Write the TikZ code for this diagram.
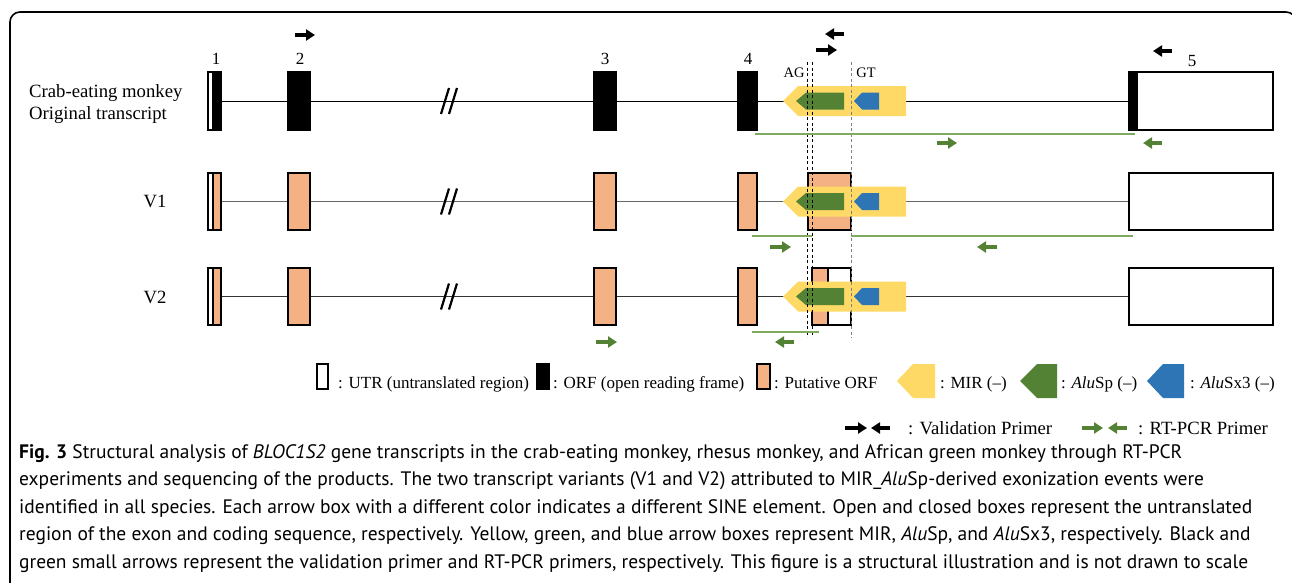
\documentclass[tikz,border=0pt]{standalone}
\usepackage{fontspec}
\setmainfont{Liberation Serif}
\newfontfamily\capfont{PT Sans}
\usetikzlibrary{arrows.meta,backgrounds}
\definecolor{mir}{HTML}{FFD966}
\definecolor{alusp}{HTML}{548235}
\definecolor{alusx}{HTML}{2E75B6}
\definecolor{porf}{HTML}{F4B183}
\definecolor{gline}{HTML}{7FAA5F}
\begin{document}
\begin{tikzpicture}[x=1pt,y=-1pt,
  exbox/.style={draw=black,line width=1.3pt,inner sep=0pt,outer sep=0pt,minimum height=58pt},
  exv/.style={exbox,minimum height=57pt},
  labtxt/.style={font=\fontsize{17}{20}\selectfont,inner sep=0pt},
  labbig/.style={font=\fontsize{18.7}{22}\selectfont,inner sep=0pt},
  rowlab/.style={font=\fontsize{18.7}{22}\selectfont,inner sep=0pt},
  smalltxt/.style={font=\fontsize{14.5}{16}\selectfont,inner sep=0pt},
  captxt/.style={font=\capfont\fontsize{19.5}{24}\selectfont,inner sep=0pt,anchor=base west},
  primer/.style={line width=3.5pt,-{Triangle[length=9pt,width=11pt]}},
  gprimer/.style={primer,draw=alusp},
  gseg/.style={draw=gline,line width=1.4pt},
  cutline/.style={line width=2.2pt},
  vdash/.style={line width=1pt,dash pattern=on 3pt off 2.5pt},
  sinegroup/.pic={
    \fill[mir] (783,0) -- (798,-15) -- (906,-15) -- (906,15) -- (798,15) -- cycle;
    \fill[alusp] (796,0) -- (806,-8.5) -- (844,-8.5) -- (844,8.5) -- (806,8.5) -- cycle;
    \fill[alusx] (854,0) -- (862,-8.5) -- (879,-8.5) -- (879,8.5) -- (862,8.5) -- cycle;
  },
  cutmark/.pic={
    \draw[cutline] (441,13) -- (449,-13);
    \draw[cutline] (449,13) -- (457,-13);
  }]
\useasboundingbox (0,0) rectangle (1292,582);
% frame
\draw[line width=1.6pt,rounded corners=10pt] (10,600) -- (10,12) -- (1296,12) -- (1296,600);

% ---------- row labels ----------
\node[rowlab,anchor=west,align=left] (lorig) at (29,104) {Crab-eating monkey\\Original transcript};
\node[rowlab] (lv1) at (155,201) {V1};
\node[rowlab] (lv2) at (155,297) {V2};

% ---------- original transcript (row 1) ----------
\node[exbox,fill=white,minimum width=5pt] (o1u) at (210.5,101) {};
\node[exbox,fill=black,minimum width=8pt] (o1o) at (217,101) {};
\node[exbox,fill=black,minimum width=22pt] (o2) at (299,101) {};
\node[exbox,fill=black,minimum width=22pt] (o3) at (605,101) {};
\node[exbox,fill=black,minimum width=19pt] (o4) at (747.5,101) {};
\node[exbox,fill=white,minimum width=136pt] (o5u) at (1205,101) {};
\node[exbox,fill=black,minimum width=8pt] (o5o) at (1133,101) {};
\begin{scope}[on background layer]
  \draw[line width=1pt] (o1o.east) -- (o2.west) (o2.east) -- (o3.west) (o3.east) -- (o4.west) (o4.east) -- (o5o.west);
\end{scope}
\pic at (0,101) {cutmark};
\pic at (0,101) {sinegroup};

\node[labtxt] (n1) at (216,59) {1};
\node[labtxt] (n2) at (300,59) {2};
\node[labtxt] (n3) at (605,59) {3};
\node[labtxt] (n4) at (748,59) {4};
\node[labtxt] (n5) at (1192,61) {5};
\node[smalltxt] (tag) at (794,73) {AG};
\node[smalltxt] (tgt) at (866,73) {GT};

% ---------- V1 ----------
\node[exv,fill=white,minimum width=5pt] (a1u) at (210.5,201.5) {};
\node[exv,fill=porf,minimum width=8pt] (a1o) at (217,201.5) {};
\node[exv,fill=porf,minimum width=22pt] (a2) at (299,201.5) {};
\node[exv,fill=porf,minimum width=22pt] (a3) at (605,201.5) {};
\node[exv,fill=porf,minimum width=19pt] (a4) at (747.5,201.5) {};
\node[exv,fill=porf,minimum width=43pt] (a6) at (829.5,201.5) {};
\node[exv,fill=white,minimum width=144pt] (a5) at (1201,201.5) {};
\begin{scope}[on background layer]
  \draw[line width=1.6pt,black!60] (a1o.east) -- (a2.west) (a2.east) -- (a3.west) (a3.east) -- (a4.west) (a4.east) -- (a6.west) (a6.east) -- (a5.west);
\end{scope}
\pic at (0,201.5) {cutmark};
\pic at (0,201.5) {sinegroup};

% ---------- V2 ----------
\node[exv,fill=white,minimum width=5pt] (b1u) at (210.5,296.5) {};
\node[exv,fill=porf,minimum width=8pt] (b1o) at (217,296.5) {};
\node[exv,fill=porf,minimum width=22pt] (b2) at (299,296.5) {};
\node[exv,fill=porf,minimum width=22pt] (b3) at (605,296.5) {};
\node[exv,fill=porf,minimum width=19pt] (b4) at (747.5,296.5) {};
\node[exv,fill=porf,minimum width=16pt] (b6o) at (820,296.5) {};
\node[exv,fill=white,minimum width=23pt] (b6u) at (839.5,296.5) {};
\node[exv,fill=white,minimum width=144pt] (b5) at (1201,296.5) {};
\begin{scope}[on background layer]
  \draw[line width=1.6pt,black!80] (b1o.east) -- (b2.west) (b2.east) -- (b3.west) (b3.east) -- (b4.west) (b4.east) -- (b6o.west) (b6u.east) -- (b5.west);
\end{scope}
\pic at (0,296.5) {cutmark};
\pic at (0,296.5) {sinegroup};

% ---------- splice-site dashed lines ----------
\draw[vdash,black] (807,62) -- (807,337);
\draw[vdash,black] (812,62) -- (812,337);
\draw[vdash,black!50] (851,62) -- (851,338);

% ---------- RT-PCR product lines ----------
\draw[gseg] (755,134) -- (1135,134);
\draw[gseg] (752,236) -- (812,236);
\draw[gseg] (851,236) -- (1133,236);
\draw[gseg] (752,332) -- (819,332);

% ---------- primers ----------
\draw[primer] (295,35) -- (315,35);
\draw[primer] (844,34) -- (825,34);
\draw[primer] (816,50) -- (837,50);
\draw[primer] (1172,51) -- (1153,51);
\draw[gprimer] (937,143) -- (957,143);
\draw[gprimer] (1162,143) -- (1143,143);
\draw[gprimer] (770,247) -- (791,247);
\draw[gprimer] (997,247) -- (977,247);
\draw[gprimer] (596,342) -- (617,342);
\draw[gprimer] (794,342) -- (775,342);

% ---------- legend ----------
\node[draw=black,line width=1.3pt,fill=white,minimum width=11pt,minimum height=25pt,inner sep=0pt] (kutr) at (322.5,376.5) {};
\node[labtxt,anchor=base west] (tutr) at (338,388) {: UTR (untranslated region)};
\node[draw=black,line width=1.3pt,fill=black,minimum width=12pt,minimum height=25pt,inner sep=0pt] (korf) at (543,376.5) {};
\node[labtxt,anchor=base west] (torf) at (553,388) {: ORF (open reading frame)};
\node[draw=black,line width=1.3pt,fill=porf,minimum width=13pt,minimum height=25pt,inner sep=0pt] (kporf) at (763.5,376.5) {};
\node[labtxt,anchor=base west] (tporf) at (774,388) {: Putative ORF};
\fill[mir] (897,381) -- (913,364) -- (935,364) -- (935,398) -- (913,398) -- cycle;
\node[labtxt,anchor=base west] (tmir) at (940,388) {: MIR (--)};
\fill[alusp] (1020,381) -- (1037,364) -- (1057,364) -- (1057,398) -- (1037,398) -- cycle;
\node[labtxt,anchor=base west] (tsp) at (1061,388) {: \textit{Alu}Sp (--)};
\fill[alusx] (1147,381) -- (1163,364) -- (1184,364) -- (1184,398) -- (1163,398) -- cycle;
\node[labtxt,anchor=base west] (tsx) at (1190,388) {: \textit{Alu}Sx3 (--)};

\draw[primer] (845,428) -- (867,428);
\draw[primer] (890,428) -- (871,428);
\node[labbig,anchor=base west] (tval) at (908,434) {: Validation Primer};
\draw[gprimer] (1082,428) -- (1103,428);
\draw[gprimer] (1127,428) -- (1108,428);
\node[labbig,anchor=base west] (trt) at (1138,434) {: RT-PCR Primer};

% ---------- caption ----------
\node[captxt] (c1) at (19,458) {\textbf{Fig. 3} Structural analysis of \textit{BLOC1S2} gene transcripts in the crab-eating monkey, rhesus monkey, and African green monkey through RT-PCR};
\node[captxt] (c2) at (19,485.5) {experiments and sequencing of the products. The two transcript variants (V1 and V2) attributed to MIR\_\textit{Alu}Sp-derived exonization events were};
\node[captxt] (c3) at (19,513) {identified in all species. Each arrow box with a different color indicates a different SINE element. Open and closed boxes represent the untranslated};
\node[captxt] (c4) at (19,540.5) {region of the exon and coding sequence, respectively. Yellow, green, and blue arrow boxes represent MIR, \textit{Alu}Sp, and \textit{Alu}Sx3, respectively. Black and};
\node[captxt] (c5) at (19,568) {green small arrows represent the validation primer and RT-PCR primers, respectively. This figure is a structural illustration and is not drawn to scale};
\end{tikzpicture}
\end{document}
